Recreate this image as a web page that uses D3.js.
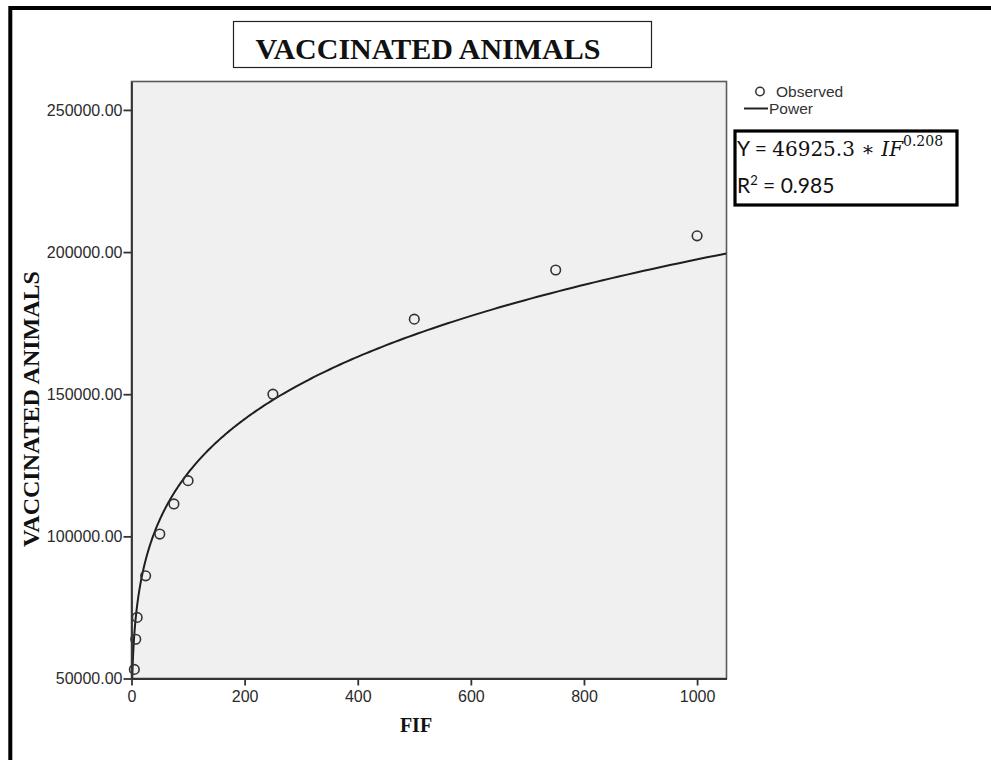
<!DOCTYPE html>
<html>
<head>
<meta charset="utf-8">
<script src="https://cdn.jsdelivr.net/npm/d3@7"></script>
<style>
  html, body { margin: 0; padding: 0; background: #fff; }
  svg { display: block; }
</style>
</head>
<body>
<svg id="chart" width="991" height="760"></svg>
<script>
// FIF dose levels and observed vaccinated animals
const fifValues = [5, 7.5, 10, 25, 50, 75, 100, 250, 500, 750, 1000];
const observedAnimals = [53200, 63800, 71500, 86100, 100800, 111400, 119600, 150000, 176400, 193700, 205700];

// Power fit  Y = a * X^b
const powerCoef = [46925.3, 0.208];
const rSquared = 0.985;

// Axis ticks
const xTicks = [0, 200, 400, 600, 800, 1000];
const yTicks = [50000, 100000, 150000, 200000, 250000];
const xDomain = [0, 1052];
const yDomain = [50000, 260000];

const svg = d3.select("#chart");
const plot = { left: 131.5, right: 726.5, top: 81.5, bottom: 678.5 };

const x = d3.scaleLinear().domain(xDomain).range([plot.left, plot.right]);
const y = d3.scaleLinear().domain(yDomain).range([plot.bottom, plot.top]);

// Outer frame (top and left edges run off the page)
svg.append("path")
  .attr("d", "M10.3,770 L10.3,8 L1000,8")
  .attr("fill", "none").attr("stroke", "#000").attr("stroke-width", 4);

// Title box
svg.append("rect")
  .attr("x", 233.5).attr("y", 21.5).attr("width", 418).attr("height", 46)
  .attr("fill", "#fff").attr("stroke", "#222").attr("stroke-width", 1.2);
svg.append("text")
  .attr("x", 428).attr("y", 59)
  .attr("text-anchor", "middle")
  .attr("font-family", "'Liberation Serif', 'Times New Roman', serif")
  .attr("font-weight", "bold").attr("font-size", 30)
  .attr("fill", "#111")
  .text("VACCINATED ANIMALS");

// Plot background
svg.append("rect")
  .attr("x", plot.left).attr("y", plot.top)
  .attr("width", plot.right - plot.left).attr("height", plot.bottom - plot.top)
  .attr("fill", "#f0f0f0").attr("stroke", "#5a5a5a").attr("stroke-width", 1.6);

// Fitted power curve, clipped to the plot area
svg.append("clipPath").attr("id", "plotClip")
  .append("rect")
  .attr("x", plot.left).attr("y", plot.top)
  .attr("width", plot.right - plot.left).attr("height", plot.bottom - plot.top);

const fit = xv => powerCoef[0] * Math.pow(xv, powerCoef[1]);
const xStart = Math.pow(yDomain[0] / powerCoef[0], 1 / powerCoef[1]);
const curveX = d3.range(0, 401).map(i => xStart * Math.pow(xDomain[1] / xStart, i / 400));

svg.append("path")
  .datum(curveX)
  .attr("clip-path", "url(#plotClip)")
  .attr("fill", "none").attr("stroke", "#1e1e1e").attr("stroke-width", 2)
  .attr("d", d3.line().x(d => x(d)).y(d => y(fit(d))));

// Observed points
svg.append("g").selectAll("circle")
  .data(fifValues.map((v, i) => [v, observedAnimals[i]]))
  .join("circle")
  .attr("cx", d => x(d[0])).attr("cy", d => y(d[1]))
  .attr("r", 4.8)
  .attr("fill", "none").attr("stroke", "#333").attr("stroke-width", 1.6);

// Axes
const tickFont = "'Liberation Sans', Arial, sans-serif";
const xAxis = svg.append("g")
  .attr("transform", `translate(0,${plot.bottom})`)
  .call(d3.axisBottom(x).tickValues(xTicks).tickFormat(d3.format("d"))
    .tickSize(7).tickSizeOuter(0).tickPadding(5));
const yAxis = svg.append("g")
  .attr("transform", `translate(${plot.left},0)`)
  .call(d3.axisLeft(y).tickValues(yTicks).tickFormat(d3.format(".2f"))
    .tickSize(8).tickSizeOuter(0).tickPadding(1));

[xAxis, yAxis].forEach(g => {
  g.select(".domain").attr("stroke", "#333").attr("stroke-width", 1.8);
  g.selectAll(".tick line").attr("stroke", "#333").attr("stroke-width", 1.8);
  g.selectAll(".tick text")
    .attr("font-family", tickFont).attr("font-size", 16).attr("fill", "#2b2b2b");
});

// Axis titles
svg.append("text")
  .attr("x", 416).attr("y", 732)
  .attr("text-anchor", "middle")
  .attr("font-family", "'Liberation Serif', 'Times New Roman', serif")
  .attr("font-weight", "bold").attr("font-size", 20).attr("fill", "#111")
  .text("FIF");

svg.append("text")
  .attr("transform", "translate(39,409) rotate(-90)")
  .attr("text-anchor", "middle")
  .attr("font-family", "'Liberation Serif', 'Times New Roman', serif")
  .attr("font-weight", "bold").attr("font-size", 24).attr("fill", "#111")
  .text("VACCINATED ANIMALS");

// Legend
const legendFont = "'Liberation Sans', Arial, sans-serif";
svg.append("circle")
  .attr("cx", 760).attr("cy", 91.5).attr("r", 4.2)
  .attr("fill", "none").attr("stroke", "#333").attr("stroke-width", 1.5);
svg.append("text")
  .attr("x", 776).attr("y", 97)
  .attr("font-family", legendFont).attr("font-size", 15.5).attr("fill", "#333")
  .text("Observed");
svg.append("line")
  .attr("x1", 744).attr("x2", 768).attr("y1", 108.5).attr("y2", 108.5)
  .attr("stroke", "#222").attr("stroke-width", 2);
svg.append("text")
  .attr("x", 769).attr("y", 114)
  .attr("font-family", legendFont).attr("font-size", 15.5).attr("fill", "#333")
  .text("Power");

// Equation box
svg.append("rect")
  .attr("x", 735).attr("y", 131).attr("width", 222).attr("height", 74)
  .attr("fill", "#fff").attr("stroke", "#000").attr("stroke-width", 3.2);

const eq = svg.append("text")
  .attr("x", 737).attr("y", 156)
  .attr("font-size", 21).attr("fill", "#111");
eq.append("tspan").attr("font-family", "Lato, 'Open Sans', sans-serif").text("Y = ");
eq.append("tspan").attr("font-family", "'DejaVu Serif', 'Liberation Serif', serif")
  .attr("font-size", 20).text(d3.format(".1f")(powerCoef[0]) + " \u2217 ");
eq.append("tspan").attr("font-family", "'DejaVu Serif', 'Liberation Serif', serif")
  .attr("font-style", "italic").attr("font-size", 20).text("IF");
eq.append("tspan").attr("font-family", "'DejaVu Serif', 'Liberation Serif', serif")
  .attr("font-size", 14).attr("dy", -10).text(String(powerCoef[1]));

const r2 = svg.append("text")
  .attr("x", 737).attr("y", 193)
  .attr("font-family", "Lato, 'Open Sans', sans-serif")
  .attr("font-size", 21).attr("fill", "#111");
r2.append("tspan").text("R");
r2.append("tspan").attr("font-size", 13).attr("dy", -8).text("2");
r2.append("tspan").attr("dy", 8).text(" = " + d3.format(".3f")(rSquared));
</script>
</body>
</html>
